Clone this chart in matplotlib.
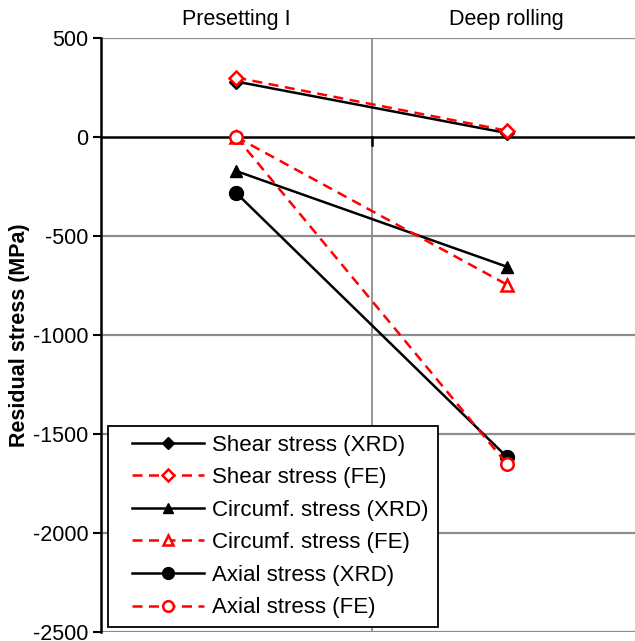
import matplotlib
matplotlib.use("Agg")
import matplotlib.pyplot as plt
from matplotlib.legend_handler import HandlerLine2D

plt.rcParams['font.family'] = ['Liberation Sans', 'DejaVu Sans']
plt.rcParams['axes.unicode_minus'] = False

categories = ["Presetting I", "Deep rolling"]
shear_xrd = [280, 20]
shear_fe = [300, 32]
circ_xrd = [-172, -655]
circ_fe = [0, -745]
axial_xrd = [-283, -1615]
axial_fe = [0, -1650]


class ShiftedHandler(HandlerLine2D):
    def create_artists(self, legend, orig_handle, xdescent, ydescent, width, height, fontsize, trans):
        shift = width * 0.18
        return super().create_artists(legend, orig_handle, xdescent - shift, ydescent,
                                      width - shift, height, fontsize, trans)


fig = plt.figure(figsize=(6.35, 6.41), dpi=100)
ax = fig.add_axes([101/635, 9/641, 541/635, 594/641])

xs = [0.5, 1.5]
ax.set_xlim(0, 2)
ax.set_ylim(-2500, 500)

for y in range(-2500, 501, 500):
    if y == 0:
        continue
    ax.axhline(y, color='#8c8c8c', lw=1.6, zorder=1)
ax.axvline(1.0, color='#8c8c8c', lw=1.3, zorder=1)
ax.axhline(0, color='black', lw=1.8, zorder=2)
ax.plot([1.0, 1.0], [0, -40], color='black', lw=1.8, zorder=2)

dash = (0, (4, 2.6))
fs = 15.5
lines = []
lines += ax.plot(xs, shear_xrd, color='black', lw=1.8, marker='D', ms=7, mfc='black', mec='black', label='Shear stress (XRD)', zorder=3)
lines += ax.plot(xs, shear_fe, color='red', lw=1.8, ls=dash, marker='D', ms=7, mfc='white', mec='red', mew=1.8, label='Shear stress (FE)', zorder=4)
lines += ax.plot(xs, circ_xrd, color='black', lw=1.8, marker='^', ms=9, mfc='black', mec='black', label='Circumf. stress (XRD)', zorder=3)
lines += ax.plot(xs, circ_fe, color='red', lw=1.8, ls=dash, marker='^', ms=8, mfc='white', mec='red', mew=1.8, label='Circumf. stress (FE)', zorder=4)
lines += ax.plot(xs, axial_xrd, color='black', lw=1.8, marker='o', ms=10, mfc='black', mec='black', label='Axial stress (XRD)', zorder=3)
lines += ax.plot(xs, axial_fe, color='red', lw=1.8, ls=dash, marker='o', ms=9, mfc='white', mec='red', mew=1.8, label='Axial stress (FE)', zorder=4)

for s in ['top', 'right', 'bottom']:
    ax.spines[s].set_visible(False)
ax.spines['left'].set_linewidth(1.8)
ax.spines['left'].set_zorder(5)

ax.set_yticks(range(-2500, 501, 500))
ax.tick_params(axis='y', direction='out', length=6, width=1.5, labelsize=fs, pad=3)
ax.xaxis.tick_top()
ax.set_xticks(xs)
ax.set_xticklabels(categories)
ax.tick_params(axis='x', length=0, labelsize=fs, pad=6)

ax.set_ylabel('Residual stress (MPa)', fontsize=fs, fontweight='bold', labelpad=2)

leg = ax.legend(loc='lower left', bbox_to_anchor=(7/541, 0.008), fontsize=16, frameon=True,
                fancybox=False, edgecolor='black', framealpha=1, handlelength=3.9,
                borderpad=0.4, labelspacing=0.52, handletextpad=0.4, borderaxespad=0,
                markerscale=0.85, handler_map={l: ShiftedHandler() for l in lines})
leg.get_frame().set_linewidth(1.3)
leg.set_zorder(10)

fig.savefig('out.png', dpi=100)
